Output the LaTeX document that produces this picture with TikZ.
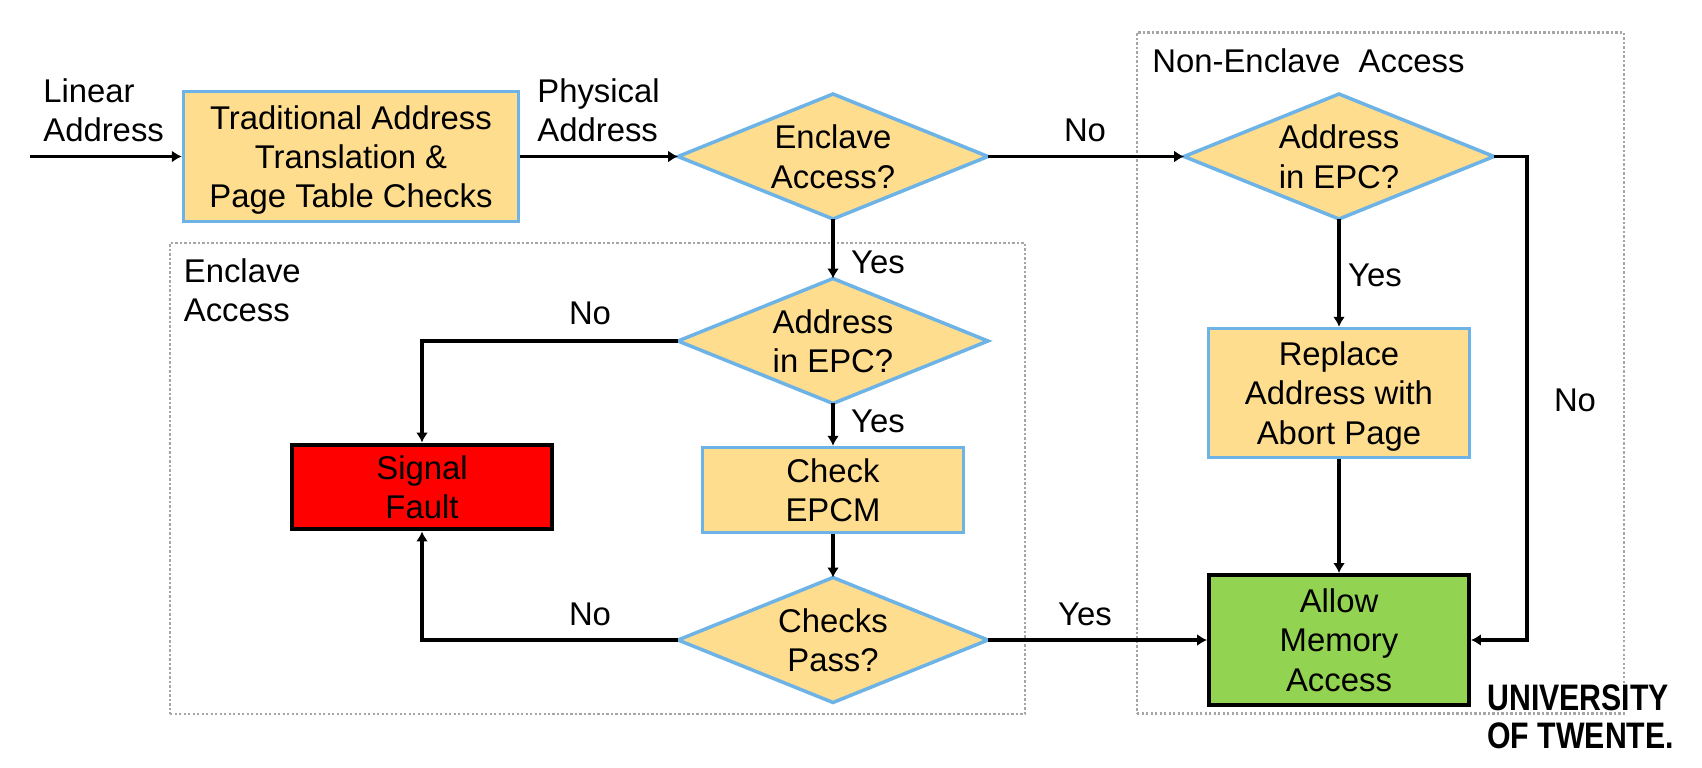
\documentclass[tikz,border=0pt]{standalone}
\usepackage{fontspec}
\setmainfont{Liberation Sans}
\newfontfamily\logofont[FakeStretch=0.82]{Liberation Sans}
\usetikzlibrary{shapes.geometric,arrows.meta}

\definecolor{flowfill}{HTML}{FFDD8F}
\definecolor{flowedge}{HTML}{6DB3E6}
\definecolor{faultred}{HTML}{FF0000}
\definecolor{allowgreen}{HTML}{92D351}
\definecolor{regionedge}{HTML}{A6A6A6}

\tikzset{
  every node/.style={font=\fontsize{18.7}{22.4}\selectfont, align=center, inner sep=0pt, text depth=0pt},
  flowbox/.style={draw=flowedge, fill=flowfill, line width=0.07cm, minimum width=5.22cm},
  flowdiamond/.style={diamond, draw=flowedge, fill=flowfill, line width=0.07cm,
    minimum width=6.2cm, minimum height=2.5cm, aspect=2.48, outer sep=0pt},
  endbox/.style={draw=black, line width=0.08cm, minimum width=5.2cm},
  region/.style={draw=regionedge, line width=0.05cm, dash pattern=on 0.045cm off 0.045cm},
  flowarrow/.style={draw, line width=0.07cm, -{Latex[length=0.2cm,width=0.24cm]}},
}

\begin{document}
\begin{tikzpicture}[x=0.02cm,y=-0.02cm]
  \useasboundingbox (0,0) rectangle (1702,767);
  % Dotted regions
  \node[region, minimum width=17.1cm, minimum height=9.42cm] (enclaveregion) at (597.5,478.5) {};
  \node[region, minimum width=9.74cm, minimum height=13.62cm] (nonenclaveregion) at (1380.5,373) {};
  \node[anchor=west, align=left] (enclavetitle) at (183.5,290) {Enclave\\Access};
  \node[anchor=west] (nonenclavetitle) at (1152,61) {Non-Enclave~~Access};
  % Top row
  \coordinate (linearstart) at (30,156.5);
  \node[flowbox, minimum width=6.7cm, minimum height=2.6cm] (translation) at (351,156.5)
    {Traditional Address\\Translation \&\\Page Table Checks};
  \node[flowdiamond] (enclaveq) at (833,156.5) {Enclave\\Access?};
  \node[flowdiamond] (nonenclaveq) at (1339,156.5) {Address\\in EPC?};
  \coordinate (noturn) at (1527,156.5);
  % Enclave path
  \node[flowdiamond] (epcq) at (833,341) {Address\\in EPC?};
  \node[flowbox, minimum height=1.7cm] (epcm) at (833,490) {Check\\EPCM};
  \node[flowdiamond] (checksq) at (833,640) {Checks\\Pass?};
  \node[endbox, fill=faultred, minimum height=1.7cm] (fault) at (422,487) {Signal\\Fault};
  % Non-enclave path
  \node[flowbox, minimum height=2.58cm] (abortpage) at (1339,393) {Replace\\Address with\\Abort Page};
  \node[endbox, fill=allowgreen, minimum height=2.6cm] (allow) at (1339,640) {Allow\\Memory\\Access};
  % Connectors
  \draw[flowarrow] (linearstart) -- (translation);
  \draw[flowarrow] (translation) -- (enclaveq);
  \draw[flowarrow] (enclaveq) -- (nonenclaveq);
  \draw[flowarrow] (enclaveq) -- (epcq);
  \draw[flowarrow] (epcq) -- (epcm);
  \draw[flowarrow] (epcm) -- (checksq);
  \draw[flowarrow] (epcq.west) -| (fault.north);
  \draw[flowarrow] (checksq.west) -| (fault.south);
  \draw[flowarrow] (checksq) -- (allow);
  \draw[flowarrow] (nonenclaveq) -- (abortpage);
  \draw[flowarrow] (abortpage) -- (allow);
  \draw[flowarrow] (nonenclaveq.east) -- (noturn) |- (allow.east);
  % Labels
  \node[anchor=west, align=left] (linearlabel) at (43,110) {Linear\\Address};
  \node[anchor=west, align=left] (physicallabel) at (537,110) {Physical\\Address};
  \node (nolabela) at (1085,130) {No};
  \node (yeslabela) at (878,262) {Yes};
  \node (nolabelb) at (590,313) {No};
  \node (yeslabelb) at (878,421) {Yes};
  \node (nolabelc) at (590,614) {No};
  \node (yeslabelc) at (1085,614) {Yes};
  \node (yeslabeld) at (1375,275) {Yes};
  \node (nolabeld) at (1575,400.5) {No};
  % Logo
  \node[anchor=north west, font=\logofont\bfseries\fontsize{21}{21.6}\selectfont, align=left] (logo) at (1487,684)
    {UNIVERSITY\\OF TWENTE.};
\end{tikzpicture}
\end{document}
